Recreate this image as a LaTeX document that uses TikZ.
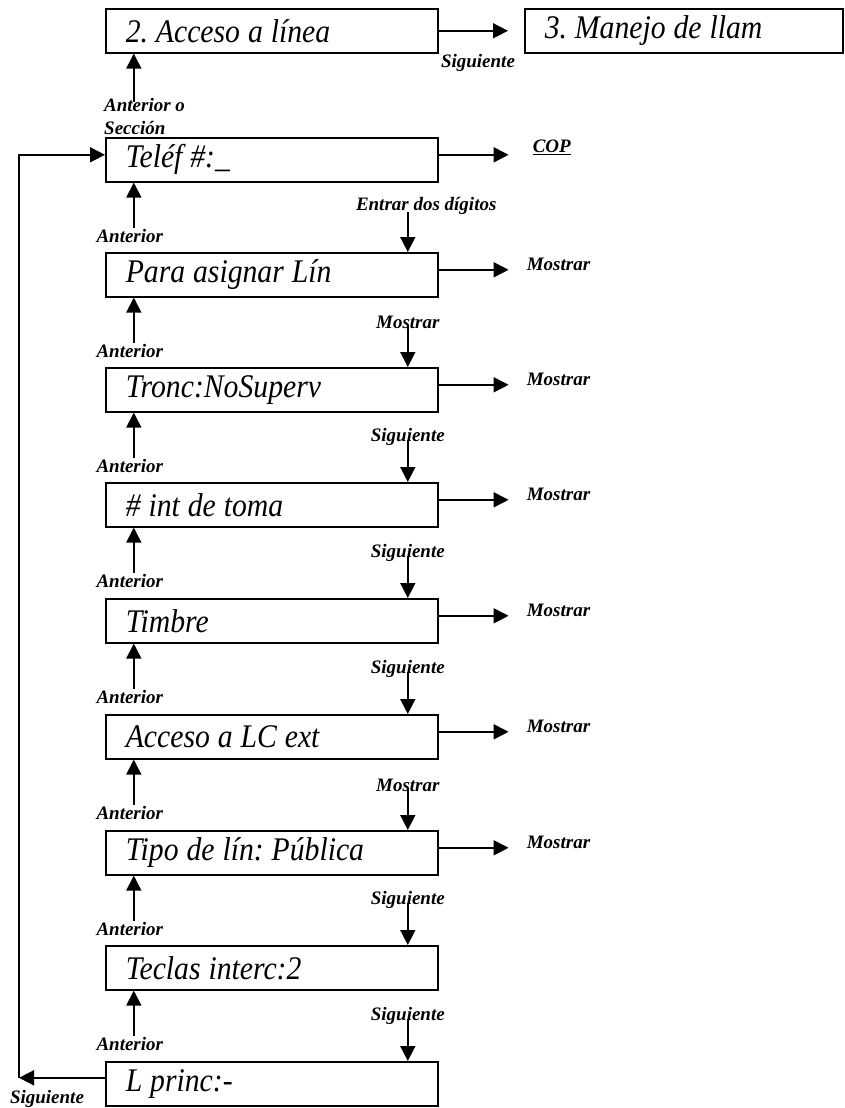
\documentclass[tikz,border=0pt]{standalone}
\usepackage{fontspec}
\setmainfont{Liberation Serif}
\newfontfamily\boxfont[FakeStretch=0.9]{Liberation Serif}
\usepackage{tikz}
\usetikzlibrary{arrows.meta, positioning}

\begin{document}
\begin{tikzpicture}[x=1pt, y=-1pt,
                box/.style={draw, line width=1.6pt, anchor=north west, minimum height=44pt,
                            inner xsep=20pt, inner ysep=0pt, text width=292pt, align=left,
                            font=\boxfont\fontsize{33}{36}\selectfont\itshape,
                            execute at begin node={\frenchspacing\spaceskip=0.24em\relax}},
                lbl/.style={inner sep=0pt, font=\fontsize{19}{21}\selectfont\bfseries\itshape},
                arr/.style={-{Triangle[length=15pt, width=15pt]}, line width=1.6pt}]
                \useasboundingbox (0,0) rectangle (845,1108);

                % top row
                \node[box] (acc) at (105, 8) {2. Acceso a línea};
                \node[box, text width=278pt] (man) at (524, 8) {3. Manejo de llam};
                \draw[arr] (acc.east) -- ([xshift=-16pt]man.west);
                \node[lbl] (sig0) at (478, 63) {Siguiente};

                % menu boxes
                \node[box] (tel)    at (105, 137)  {Teléf \#:\_};
                \node[box] (para)   at (105, 252)  {Para asignar Lín};
                \node[box] (tronc)  at (105, 367)  {Tronc:NoSuperv};
                \node[box] (toma)   at (105, 482)  {\# int de toma};
                \node[box] (timbre) at (105, 598)  {Timbre};
                \node[box] (lcext)  at (105, 714)  {Acceso a LC ext};
                \node[box] (tipo)   at (105, 830)  {Tipo de lín: Pública};
                \node[box] (tecl)   at (105, 945)  {Teclas interc:2};
                \node[box] (lpr)    at (105, 1061) {L princ:-};

                % back to previous level
                \draw[arr] ([xshift=-138pt, yshift=-48pt]acc.south) -- ([xshift=-138pt]acc.south);
                \node[lbl, anchor=west, align=left] (ant0) at (104, 117)
                      {Anterior o\\[2pt]Sección};

                % Anterior (upwards)
                \draw[arr] ([xshift=-138pt, yshift=-45pt]tel.south) -- ([xshift=-138pt]tel.south);
                \node[lbl] (ant1) at ([xshift=-142pt, yshift=-53pt]tel.south) {Anterior};
                \draw[arr] ([xshift=-138pt, yshift=-45pt]para.south) -- ([xshift=-138pt]para.south);
                \node[lbl] (ant2) at ([xshift=-142pt, yshift=-53pt]para.south) {Anterior};
                \draw[arr] ([xshift=-138pt, yshift=-45pt]tronc.south) -- ([xshift=-138pt]tronc.south);
                \node[lbl] (ant3) at ([xshift=-142pt, yshift=-53pt]tronc.south) {Anterior};
                \draw[arr] ([xshift=-138pt, yshift=-45pt]toma.south) -- ([xshift=-138pt]toma.south);
                \node[lbl] (ant4) at ([xshift=-142pt, yshift=-53pt]toma.south) {Anterior};
                \draw[arr] ([xshift=-138pt, yshift=-45pt]timbre.south) -- ([xshift=-138pt]timbre.south);
                \node[lbl] (ant5) at ([xshift=-142pt, yshift=-53pt]timbre.south) {Anterior};
                \draw[arr] ([xshift=-138pt, yshift=-45pt]lcext.south) -- ([xshift=-138pt]lcext.south);
                \node[lbl] (ant6) at ([xshift=-142pt, yshift=-53pt]lcext.south) {Anterior};
                \draw[arr] ([xshift=-138pt, yshift=-45pt]tipo.south) -- ([xshift=-138pt]tipo.south);
                \node[lbl] (ant7) at ([xshift=-142pt, yshift=-53pt]tipo.south) {Anterior};
                \draw[arr] ([xshift=-138pt, yshift=-45pt]tecl.south) -- ([xshift=-138pt]tecl.south);
                \node[lbl] (ant8) at ([xshift=-142pt, yshift=-53pt]tecl.south) {Anterior};

                % next item (downwards)
                \draw[arr] ([xshift=136pt, yshift=40pt]para.north) -- ([xshift=136pt]para.north);
                \node[lbl, anchor=west] (nx1) at ([xshift=84pt, yshift=46pt]para.north) {Entrar dos dígitos};
                \draw[arr] ([xshift=136pt, yshift=42pt]tronc.north) -- ([xshift=136pt]tronc.north);
                \node[lbl] (nx2) at ([xshift=136pt, yshift=45pt]tronc.north) {Mostrar};
                \draw[arr] ([xshift=136pt, yshift=42pt]toma.north) -- ([xshift=136pt]toma.north);
                \node[lbl] (nx3) at ([xshift=136pt, yshift=45pt]toma.north) {Siguiente};
                \draw[arr] ([xshift=136pt, yshift=42pt]timbre.north) -- ([xshift=136pt]timbre.north);
                \node[lbl] (nx4) at ([xshift=136pt, yshift=45pt]timbre.north) {Siguiente};
                \draw[arr] ([xshift=136pt, yshift=42pt]lcext.north) -- ([xshift=136pt]lcext.north);
                \node[lbl] (nx5) at ([xshift=136pt, yshift=45pt]lcext.north) {Siguiente};
                \draw[arr] ([xshift=136pt, yshift=42pt]tipo.north) -- ([xshift=136pt]tipo.north);
                \node[lbl] (nx6) at ([xshift=136pt, yshift=45pt]tipo.north) {Mostrar};
                \draw[arr] ([xshift=136pt, yshift=42pt]tecl.north) -- ([xshift=136pt]tecl.north);
                \node[lbl] (nx7) at ([xshift=136pt, yshift=45pt]tecl.north) {Siguiente};
                \draw[arr] ([xshift=136pt, yshift=42pt]lpr.north) -- ([xshift=136pt]lpr.north);
                \node[lbl] (nx8) at ([xshift=136pt, yshift=45pt]lpr.north) {Siguiente};

                % to the right
                \draw[arr] ([yshift=5pt]tel.east) -- ++(70, 0);
                \node[lbl, anchor=west] (cop) at ([xshift=94pt, yshift=12pt]tel.east) {\underline{COP}};
                \draw[arr] ([yshift=5pt]para.east) -- ++(70, 0);
                \node[lbl, anchor=west] (mo1) at ([xshift=88pt, yshift=10pt]para.east) {Mostrar};
                \draw[arr] ([yshift=5pt]tronc.east) -- ++(70, 0);
                \node[lbl, anchor=west] (mo2) at ([xshift=88pt, yshift=10pt]tronc.east) {Mostrar};
                \draw[arr] ([yshift=5pt]toma.east) -- ++(70, 0);
                \node[lbl, anchor=west] (mo3) at ([xshift=88pt, yshift=10pt]toma.east) {Mostrar};
                \draw[arr] ([yshift=5pt]timbre.east) -- ++(70, 0);
                \node[lbl, anchor=west] (mo4) at ([xshift=88pt, yshift=10pt]timbre.east) {Mostrar};
                \draw[arr] ([yshift=5pt]lcext.east) -- ++(70, 0);
                \node[lbl, anchor=west] (mo5) at ([xshift=88pt, yshift=10pt]lcext.east) {Mostrar};
                \draw[arr] ([yshift=5pt]tipo.east) -- ++(70, 0);
                \node[lbl, anchor=west] (mo6) at ([xshift=88pt, yshift=10pt]tipo.east) {Mostrar};

                % loop back to the first item
                \path ([yshift=6pt]lpr.west) ++(-86, 0) coordinate (back);
                \draw[arr] ([yshift=6pt]lpr.west) -- (back);
                \draw[arr] (back) |- ([yshift=5pt]tel.west);
                \node[lbl] (sigb) at (47, 1099) {Siguiente};
            \end{tikzpicture}
\end{document}
